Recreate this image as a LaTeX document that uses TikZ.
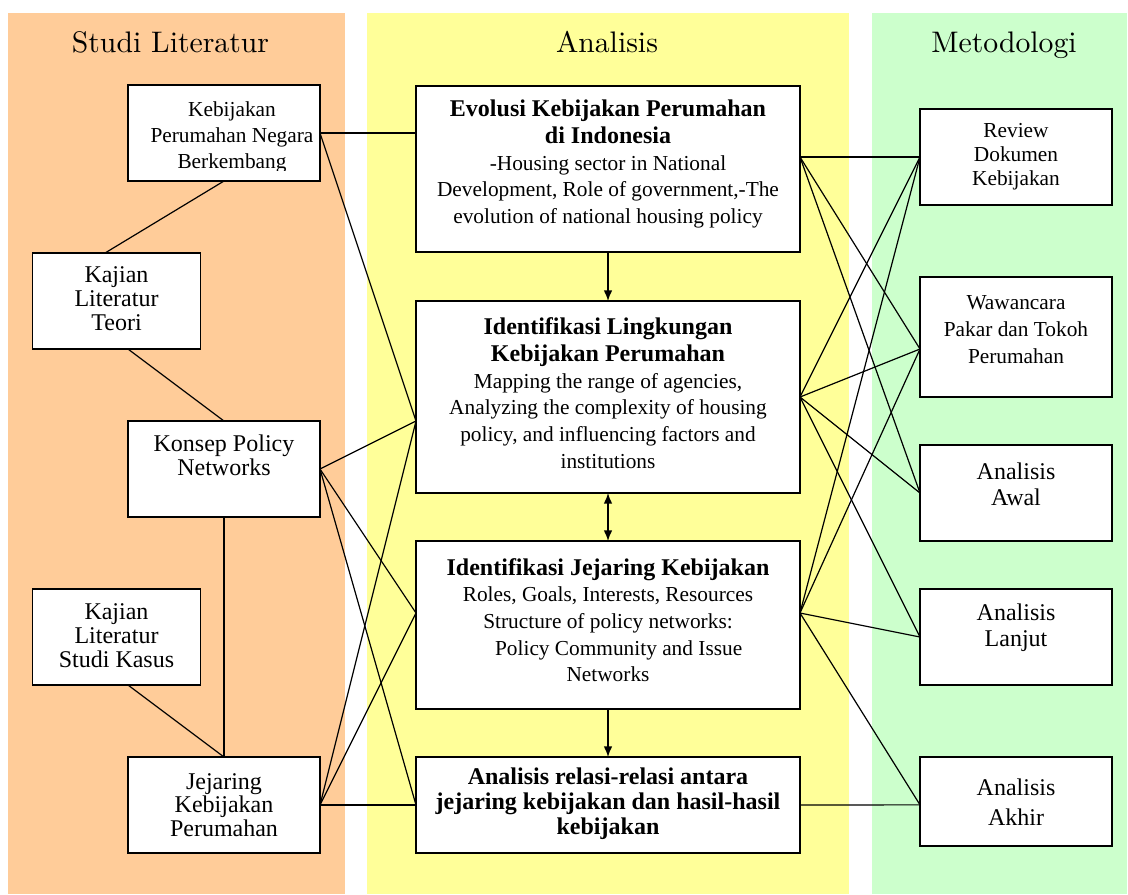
\documentclass[tikz,border=0pt]{standalone}
\usepackage{fontspec}
\setmainfont{Liberation Serif}
\newfontfamily\headfont{lmroman10-regular}[Extension=.otf]
\usetikzlibrary{arrows.meta}
\definecolor{litbg}{HTML}{FFCC99}
\definecolor{anabg}{HTML}{FFFF99}
\definecolor{metbg}{HTML}{CCFFCC}

\begin{document}
\begin{tikzpicture}[x=0.75pt,y=-0.75pt,
  box/.style 2 args={draw, fill=white, line width=1.1pt, inner sep=0pt, outer sep=0pt,
    minimum width={#1*0.75pt}, minimum height={#2*0.75pt}},
  txt/.style={inner sep=0pt, align=center},
  fa/.style={font=\fontsize{16}{19.5}\selectfont},
  fb/.style={font=\fontsize{18}{18}\selectfont},
  fc/.style={font=\fontsize{16}{20}\selectfont},
  hd/.style={font=\headfont\fontsize{22.3}{26}\selectfont, anchor=base, inner sep=0pt},
  link/.style={line width=0.9pt},
  tip/.tip={Latex[length=8pt,width=6.5pt]},
  flow/.style={line width=1.1pt, -tip},
  bothflow/.style={line width=1.1pt, tip-tip}
]
\useasboundingbox (0,0) rectangle (1128,894);

% column backgrounds
\fill[litbg] (8,13) rectangle (345,894);
\fill[anabg] (367,13) rectangle (849,894);
\fill[metbg] (872,13) rectangle (1127,894);

% column headings
\node[hd] (hlit) at (170.5,52) {Studi Literatur};
\node[hd] (hana) at (607,52) {Analisis};
\node[hd] (hmet) at (1004,52) {Metodologi};

% literature column
\node[box={192}{96}] (kpn) at (224,133) {};
\begin{scope}
  \clip (128,85) rectangle (320,170);
  \node[txt,fa] (kpnT) at (232,137) {Kebijakan\\Perumahan Negara\\Berkembang};
\end{scope}
\node[box={168}{96}] (kteori) at (116.5,301) {};
\node[txt,fb] (kteoriT) at (116.5,299) {Kajian\\Literatur\\Teori};
\node[box={192}{96}] (konsep) at (224,469) {};
\node[txt,fb] (konsepT) at (224,455) {Konsep Policy\\Networks};
\node[box={168}{96}] (kkasus) at (116.5,637) {};
\node[txt,fb] (kkasusT) at (116.5,636) {Kajian\\Literatur\\Studi Kasus};
\node[box={192}{96}] (jej) at (224,805) {};
\node[txt,font=\fontsize{18}{17.5}\selectfont] (jejT) at (224,805) {Jejaring\\Kebijakan\\Perumahan};

% analysis column
\node[box={384}{166}] (evo) at (608,169) {};
\node[txt,fc] (evoT) at (608,164) {{\bfseries\fontsize{18}{20}\selectfont Evolusi Kebijakan Perumahan}\\
  {\bfseries\fontsize{18}{20}\selectfont di Indonesia}\\
  -Housing sector in National\\
  Development, Role of government,-The\\
  evolution of national housing policy};
\node[box={384}{192}] (il) at (608,397) {};
\node[txt,fc] (ilT) at (608,393) {{\bfseries\fontsize{18}{20}\selectfont Identifikasi Lingkungan}\\
  {\bfseries\fontsize{18}{20}\selectfont Kebijakan Perumahan}\\
  Mapping the range of agencies,\\
  Analyzing the complexity of housing\\
  policy, and influencing factors and\\
  institutions};
\node[box={384}{168}] (ij) at (608,625) {};
\node[txt,fc] (ijT) at (608,620) {{\bfseries\fontsize{18}{20}\selectfont Identifikasi Jejaring Kebijakan}\\
  Roles, Goals, Interests, Resources\\
  Structure of policy networks:\\
  \hspace*{16pt}Policy Community and Issue\\
  Networks};
\node[box={384}{96}] (ar) at (608,805) {};
\node[txt,font=\bfseries\fontsize{18}{18.75}\selectfont] (arT) at (608,804) {Analisis relasi-relasi antara\\
  jejaring kebijakan dan hasil-hasil\\
  kebijakan};

% method column
\node[box={192}{96}] (rev) at (1016,157) {};
\node[txt,font=\fontsize{16}{18}\selectfont] (revT) at (1016,157) {Review\\Dokumen\\Kebijakan};
\node[box={192}{120}] (waw) at (1016,337) {};
\node[txt,fc] (wawT) at (1016,329.5) {Wawancara\\Pakar dan Tokoh\\Perumahan};
\node[box={192}{96}] (awal) at (1016,493) {};
\node[txt,font=\fontsize{18}{19.5}\selectfont] (awalT) at (1016,484) {Analisis\\Awal};
\node[box={192}{96}] (lanjut) at (1016,637) {};
\node[txt,font=\fontsize{18}{19.5}\selectfont] (lanjutT) at (1016,628) {Analisis\\Lanjut};
\node[box={192}{89}] (akhir) at (1016,801.5) {};
\node[txt,font=\fontsize{18}{22.5}\selectfont] (akhirT) at (1016,802) {Analisis\\Akhir};

% attachment points off the box centres
\coordinate (kteoriN) at ([xshift=-8.6pt]kteori.north);
\coordinate (kteoriS) at ([xshift=8.6pt]kteori.south);
\coordinate (kkasusS) at ([xshift=8.6pt]kkasus.south);
\coordinate (evoL) at ([yshift=27pt]evo.west);
\coordinate (evoR) at ([yshift=9pt]evo.east);
\coordinate (ilL) at ([yshift=-18pt]il.west);
\coordinate (ijL) at ([yshift=9pt]ij.west);
\coordinate (ijR) at ([yshift=9pt]ij.east);
\coordinate (wawL) at ([yshift=-9pt]waw.west);
\coordinate (akhirL) at ([yshift=-2.5pt]akhir.west);

% literature links
\draw[link] (kpn.south) -- (kteoriN);
\draw[link] (kteoriS) -- (konsep.north);
\draw[link] (konsep.south) -- (jej.north);
\draw[link] (kkasusS) -- (jej.north);

% literature to analysis
\draw[link] (kpn.east) -- (evoL);
\draw[link] (kpn.east) -- (ilL);
\draw[link] (konsep.east) -- (ilL);
\draw[link] (konsep.east) -- (ijL);
\draw[link] (konsep.east) -- (ar.west);
\draw[link] (jej.east) -- (ilL);
\draw[link] (jej.east) -- (ijL);
\draw[link] (jej.east) -- (ar.west);

% analysis to method
\draw[link] (evoR) -- (rev.west);
\draw[link] (evoR) -- (wawL);
\draw[link] (evoR) -- (awal.west);
\draw[link] (il.east) -- (rev.west);
\draw[link] (il.east) -- (wawL);
\draw[link] (il.east) -- (awal.west);
\draw[link] (il.east) -- (lanjut.west);
\draw[link] (ijR) -- (rev.west);
\draw[link] (ijR) -- (wawL);
\draw[link] (ijR) -- (lanjut.west);
\draw[link] (ijR) -- (akhirL);
\draw[link] (ar.east) -- (akhirL);

% analysis flow
\draw[flow] (evo.south) -- (il.north);
\draw[bothflow] (il.south) -- (ij.north);
\draw[flow] (ij.south) -- (ar.north);
\end{tikzpicture}
\end{document}
